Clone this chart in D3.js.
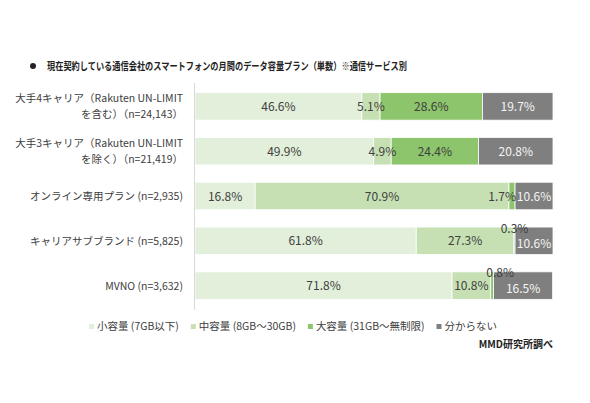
<!DOCTYPE html>
<html><head><meta charset="utf-8">
<script src="https://cdn.jsdelivr.net/npm/d3@7"></script>
<style>
body{margin:0;background:#fff;}
text{font-family:"Noto Sans CJK JP","Noto Sans",sans-serif;}
</style></head>
<body>
<svg id="chart" width="590" height="403"></svg>
<script>
const title = "現在契約している通信会社のスマートフォンの月間のデータ容量プラン（単数）※通信サービス別";
const categories = ["大手4キャリア", "大手3キャリア", "オンライン専用プラン", "キャリアサブブランド", "MVNO"];
const categoryLabels = [
  ["大手4キャリア（Rakuten UN-LIMIT", "を含む）（n=24,143）"],
  ["大手3キャリア（Rakuten UN-LIMIT", "を除く）（n=21,419）"],
  ["オンライン専用プラン (n=2,935)"],
  ["キャリアサブブランド (n=5,825)"],
  ["MVNO (n=3,632)"]
];
const seriesNames = ["小容量 (7GB以下)", "中容量 (8GB～30GB)", "大容量 (31GB～無制限)", "分からない"];
const small  = [46.6, 49.9, 16.8, 61.8, 71.8];
const medium = [5.1, 4.9, 70.9, 27.3, 10.8];
const large  = [28.6, 24.4, 1.7, 0.3, 0.8];
const unknown= [19.7, 20.8, 10.6, 10.6, 16.5];
const source = "MMD研究所調べ";

const colors = ["#e2efda", "#c6e0b4", "#8cc56c", "#7f7f7f"];
const series = [small, medium, large, unknown];

const svg = d3.select("#chart");
const x = d3.scaleLinear().domain([0, 100]).range([195, 553]);
const y = d3.scaleBand().domain(categories).range([84, 308]).paddingInner(0.386).paddingOuter(0.193);

// title
svg.append("circle").attr("cx", 33).attr("cy", 66).attr("r", 3).attr("fill", "#222");
svg.append("text").attr("x", 47).attr("y", 70).attr("font-size", 10.5).attr("font-weight", "bold")
  .attr("fill", "#222").attr("textLength", 360).attr("lengthAdjust", "spacingAndGlyphs").text(title);

// stacked data
const rows = categories.map((c, i) => {
  let acc = 0;
  return series.map((s, k) => {
    const v = s[i];
    const seg = {cat: c, k, v, x0: acc, x1: acc + v};
    acc += v;
    return seg;
  });
});

const g = svg.append("g");
rows.forEach(segs => {
  g.selectAll(null).data(segs).enter().append("rect")
    .attr("x", d => x(d.x0)).attr("y", d => y(d.cat))
    .attr("width", d => Math.max(0, x(d.x1) - x(d.x0)))
    .attr("height", y.bandwidth())
    .attr("fill", d => colors[d.k])
    .attr("stroke", "#fff").attr("stroke-width", 0.8);
});

// axis line
svg.append("line").attr("x1", 194.5).attr("x2", 194.5).attr("y1", 83).attr("y2", 310)
  .attr("stroke", "#d9d9d9").attr("stroke-width", 1);

// value labels
rows.forEach(segs => {
  segs.forEach(d => {
    const top = y(d.cat), mid = top + y.bandwidth() / 2;
    let tx = (x(d.x0) + x(d.x1)) / 2, ty = mid + 4.5, anchor = "middle";
    let fill = d.k === 3 ? "#f5f5f5" : "#404040";
    if (d.v < 1) { ty = top + 5.5; tx += (d.v > 0.5 ? 8 : 0); }
    else if (d.v < 2) { tx = x(d.x1) + 1; anchor = "end"; }
    if (d.k === 3 && segs[2].v < 1) ty = mid + 7.5;
    svg.append("text").attr("x", tx).attr("y", ty).attr("text-anchor", anchor)
      .attr("font-size", 12).attr("fill", fill).text(d.v.toFixed(1) + "%");
  });
});

// category labels
categories.forEach((c, i) => {
  const lines = categoryLabels[i];
  const mid = y(c) + y.bandwidth() / 2;
  lines.forEach((ln, j) => {
    const off = lines.length === 1 ? 0 : (j === 0 ? -8 : 8);
    svg.append("text").attr("x", 183).attr("y", mid + off + 4).attr("text-anchor", "end")
      .attr("font-size", 10.5).attr("fill", "#404040").text(ln);
  });
});

// legend: sequential layout spread between 89 and 497
const lg = svg.append("g");
const items = seriesNames.map((n, i) => {
  const it = lg.append("g");
  it.append("rect").attr("x", 0).attr("y", -6).attr("width", 5).attr("height", 5).attr("fill", colors[i]);
  const t = it.append("text").attr("x", 8).attr("y", 0).attr("font-size", 10.5).attr("fill", "#404040").text(n);
  return {it, w: 8 + t.node().getComputedTextLength()};
});
const totalW = d3.sum(items, d => d.w);
const gap = Math.max(6, (497 - 89 - totalW) / (items.length - 1));
let lx = 89;
items.forEach(d => { d.it.attr("transform", `translate(${lx},330)`); lx += d.w + gap; });

svg.append("text").attr("x", 553).attr("y", 348).attr("text-anchor", "end").attr("font-size", 10)
  .attr("font-weight", "bold").attr("fill", "#222").text(source);
</script>
</body></html>
